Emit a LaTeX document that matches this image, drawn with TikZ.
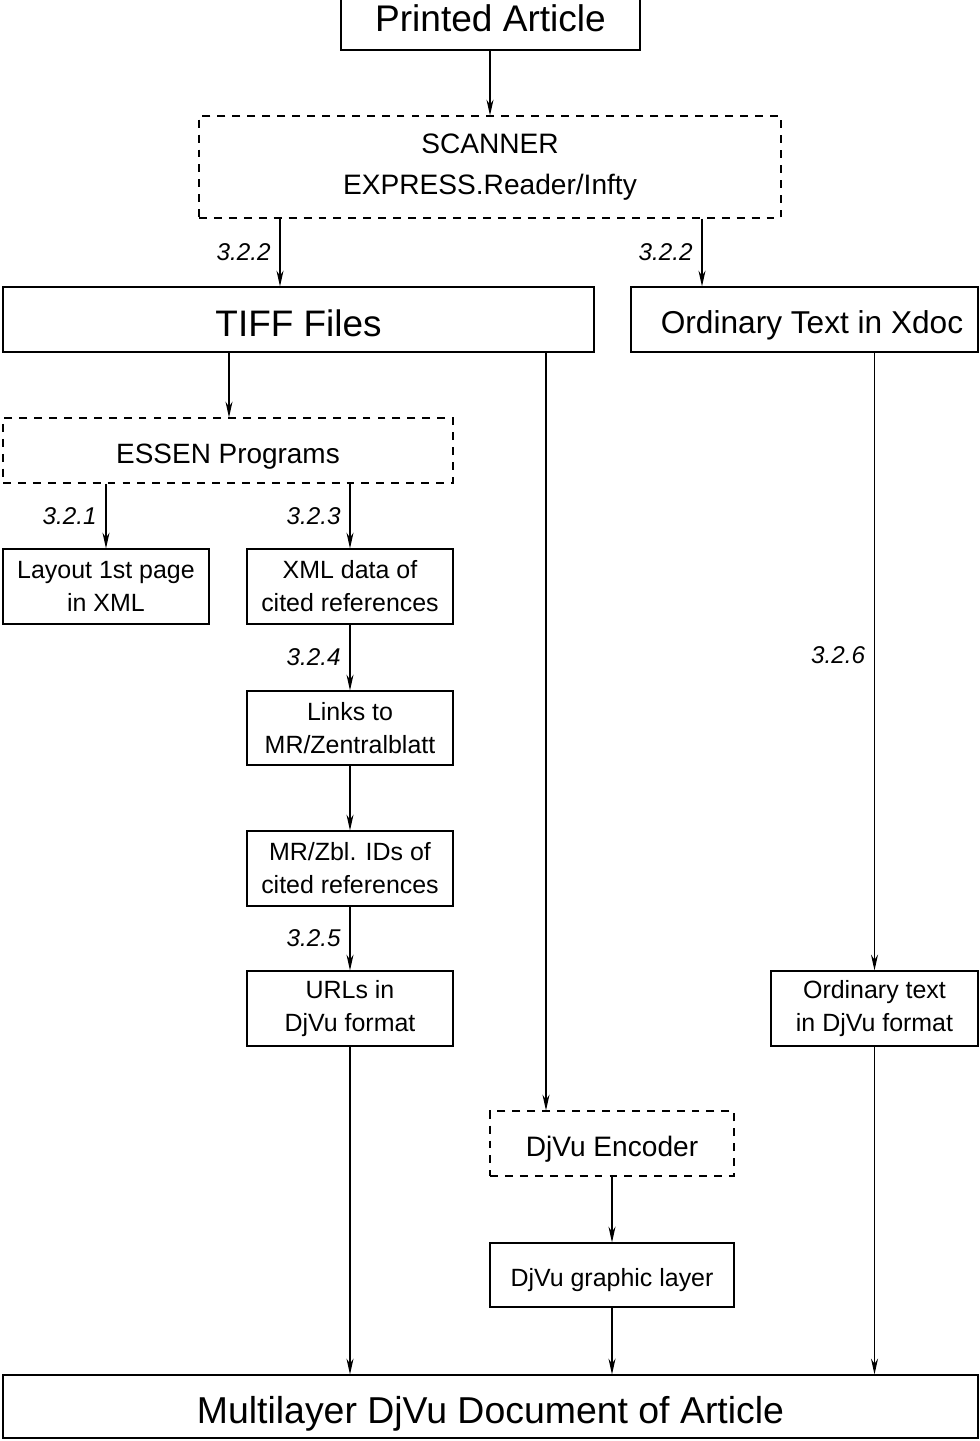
\documentclass[tikz,border=0pt]{standalone}
\usepackage{fontspec}
\setmainfont{Liberation Sans}
\usetikzlibrary{arrows.meta}

\begin{document}
\begin{tikzpicture}[x=0.02cm, y=-0.02cm, >={Stealth[length=9pt,width=4pt]}, line width=0.7pt,
  box/.style={draw, inner sep=0pt, align=center, font=\fontsize{14.2}{18.8}\selectfont},
  one/.style={text height=#1, text depth=0pt},
  dbox/.style={box, dash pattern=on 4.5pt off 4pt},
  lbl/.style={inner sep=0pt, xshift=-5pt, font=\fontsize{13.8}{16}\selectfont\itshape}]
\useasboundingbox (0,0) rectangle (980,1441);
% top part
\node[box, one=19pt, minimum width=5.98cm, minimum height=1.4cm, font=\fontsize{21.1}{24}\selectfont] (art) at (490.5,15) {Printed Article};
\node[dbox, minimum width=11.64cm, minimum height=2.04cm, font=\fontsize{16}{23.3}\selectfont] (scan) at (490,167) {SCANNER\\EXPRESS.Reader/Infty};
\node[box, one=18.9pt, minimum width=11.82cm, minimum height=1.3cm, font=\fontsize{21}{24}\selectfont] (tiff) at (298.5,319.5) {TIFF Files};
\node[box, one=16.2pt, minimum width=6.94cm, minimum height=1.3cm, font=\fontsize{18}{20}\selectfont] (xdoc) at (804.5,319.5) {\hspace{0.3cm}Ordinary Text in Xdoc};
% ESSEN branch
\node[dbox, one=14.3pt, minimum width=9cm, minimum height=1.3cm, font=\fontsize{15.9}{19}\selectfont] (essen) at (228,450.5) {ESSEN Programs};
\node[box, minimum width=4.12cm, minimum height=1.5cm] (lay) at (106,586.5) {Layout 1st page\\in XML};
\node[box, minimum width=4.12cm, minimum height=1.5cm] (xml) at (350,586.5) {XML data of\\cited references};
\node[box, minimum width=4.12cm, minimum height=1.48cm] (links) at (350,728) {Links to\\MR/Zentralblatt};
\node[box, minimum width=4.12cm, minimum height=1.5cm] (ids) at (350,868.5) {MR/Zbl. IDs of\\cited references};
\node[box, minimum width=4.12cm, minimum height=1.5cm] (urls) at (350,1008.5) {URLs in\\DjVu format};
\node[box, minimum width=4.14cm, minimum height=1.5cm] (ord) at (874.5,1008.5) {Ordinary text\\in DjVu format};
% DjVu
\node[dbox, one=14.4pt, minimum width=4.88cm, minimum height=1.3cm, font=\fontsize{16}{19}\selectfont] (enc) at (612,1143.5) {DjVu Encoder};
\node[box, one=12.8pt, minimum width=4.88cm, minimum height=1.28cm] (graph) at (612,1275) {DjVu graphic layer};
\node[box, one=19.2pt, minimum width=19.5cm, minimum height=1.26cm, font=\fontsize{21.3}{24}\selectfont] (multi) at (490.5,1406.5) {Multilayer DjVu Document of Article};
% connectors
\draw[->] (art.south -| 490,0) -- (scan.north -| 490,0);
\draw[->] (scan.south -| 280,0) -- node[lbl, left] {3.2.2} (tiff.north -| 280,0);
\draw[->] (scan.south -| 702,0) -- node[lbl, left] {3.2.2} (xdoc.north -| 702,0);
\draw[->] (tiff.south -| 229,0) -- (essen.north -| 229,0);
\draw[->] (tiff.south -| 546,0) -- (enc.north -| 546,0);
\draw[->] (essen.south -| lay.north) -- node[lbl, left] {3.2.1} (lay.north);
\draw[->] (essen.south -| xml.north) -- node[lbl, left] {3.2.3} (xml.north);
\draw[->] (xml) -- node[lbl, left] {3.2.4} (links);
\draw[->] (links) -- (ids);
\draw[->] (ids) -- node[lbl, left] {3.2.5} (urls);
\draw[->] (xdoc.south -| ord.north) -- node[lbl, left, pos=0.49] {3.2.6} (ord.north);
\draw[->] (enc) -- (graph);
\draw[->] (urls.south) -- (multi.north -| urls.south);
\draw[->] (graph.south) -- (multi.north -| graph.south);
\draw[->] (ord.south) -- (multi.north -| ord.south);
\end{tikzpicture}
\end{document}
